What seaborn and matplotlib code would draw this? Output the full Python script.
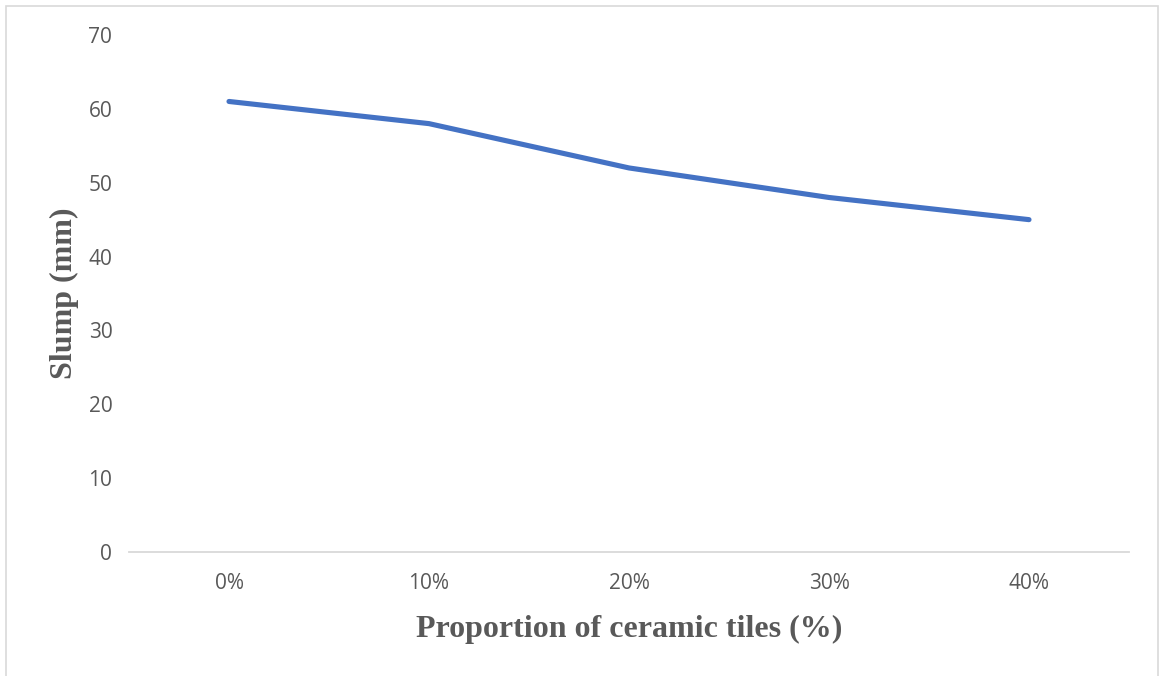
import matplotlib
matplotlib.use("Agg")
import matplotlib.pyplot as plt
import matplotlib.patches as mpatches
import seaborn as sns
import pandas as pd

# Slump test results for concrete with ceramic tile replacement
proportions = ["0%", "10%", "20%", "30%", "40%"]
slump_mm = [61, 58, 52, 48, 45]
y_ticks = [0, 10, 20, 30, 40, 50, 60, 70]

df = pd.DataFrame({"pos": range(len(proportions)), "slump": slump_mm})

sns.set_theme(style="white")
plt.rcParams["font.family"] = ["Open Sans", "DejaVu Sans"]

fig = plt.figure(figsize=(11.6, 6.76), dpi=100)
ax = fig.add_axes([129 / 1160, 1 - 552 / 676, 1000 / 1160, 517 / 676])

sns.lineplot(data=df, x="pos", y="slump", ax=ax, color="#4472C4",
             linewidth=3.7, solid_capstyle="round", solid_joinstyle="round")

ax.set_xlim(-0.5, len(proportions) - 0.5)
ax.set_ylim(0, 70)
ax.set_xticks(range(len(proportions)))
ax.set_xticklabels(proportions)
ax.set_yticks(y_ticks)

text_gray = "#595959"
ax.tick_params(axis="both", length=0, labelsize=15, labelcolor=text_gray)
ax.tick_params(axis="x", pad=15)
ax.tick_params(axis="y", pad=12)

for side in ["top", "right", "left"]:
    ax.spines[side].set_visible(False)
ax.spines["bottom"].set_color("#D9D9D9")
ax.spines["bottom"].set_linewidth(1.3)
ax.grid(False)

label_font = dict(family="Liberation Serif", weight="bold", size=23, color=text_gray)
ax.set_xlabel("Proportion of ceramic tiles (%)", labelpad=15, **label_font)
ax.set_ylabel("Slump (mm)", labelpad=7, **label_font)

# light chart-area border
border = mpatches.Rectangle((6 / 1160, -0.05), 1152 / 1160, 1.05 - 6 / 676,
                            transform=fig.transFigure, fill=False,
                            edgecolor="#D9D9D9", linewidth=1.2)
fig.add_artist(border)

fig.savefig("out.png", dpi=100, facecolor="white")
